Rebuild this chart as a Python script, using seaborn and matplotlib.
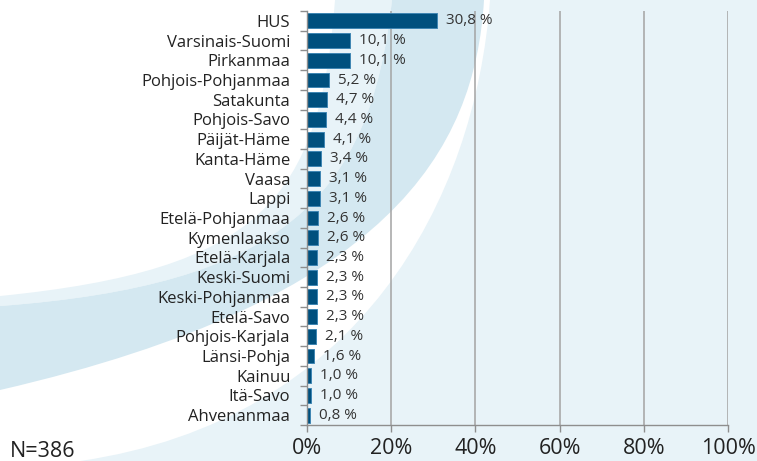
import numpy as np
import pandas as pd
import matplotlib
matplotlib.use('Agg')
import matplotlib.pyplot as plt
import seaborn as sns
from matplotlib.path import Path
from matplotlib.patches import PathPatch
from matplotlib.ticker import FixedLocator

regions = ['HUS', 'Varsinais-Suomi', 'Pirkanmaa', 'Pohjois-Pohjanmaa', 'Satakunta',
           'Pohjois-Savo', 'Päijät-Häme', 'Kanta-Häme', 'Vaasa', 'Lappi',
           'Etelä-Pohjanmaa', 'Kymenlaakso', 'Etelä-Karjala', 'Keski-Suomi',
           'Keski-Pohjanmaa', 'Etelä-Savo', 'Pohjois-Karjala', 'Länsi-Pohja',
           'Kainuu', 'Itä-Savo', 'Ahvenanmaa']
shares = [30.8, 10.1, 10.1, 5.2, 4.7, 4.4, 4.1, 3.4, 3.1, 3.1,
          2.6, 2.6, 2.3, 2.3, 2.3, 2.3, 2.1, 1.6, 1.0, 1.0, 0.8]
x_ticks = [0, 20, 40, 60, 80, 100]
n_label = 'N=386'

df = pd.DataFrame({'region': regions, 'share': shares})

sns.set_theme(style='white')
plt.rcParams['font.family'] = ['Open Sans', 'DejaVu Sans']

W, H = 757, 461
fig = plt.figure(figsize=(W / 100, H / 100), dpi=100)
fig.patch.set_facecolor('white')

# decorative background swooshes (pixel coords, y down)
bg = fig.add_axes([0, 0, 1, 1], zorder=0)
bg.set_xlim(0, W)
bg.set_ylim(H, 0)
bg.axis('off')
light = '#e8f3f8'
dark = '#d4e8f1'
C4, L2, MV, CP = Path.CURVE4, Path.LINETO, Path.MOVETO, Path.CLOSEPOLY

# right light area
verts = [(490, 0), (W, 0), (W, H), (80, H), (360, 420), (475, 200), (490, 0), (490, 0)]
codes = [MV, L2, L2, L2, C4, C4, C4, CP]
bg.add_patch(PathPatch(Path(verts, codes), fc=light, ec='none'))
# thin light band
verts = [(0, 296), (260, 270), (320, 200), (335, 0), (392, 0),
         (370, 200), (280, 285), (0, 306), (0, 296)]
codes = [MV, C4, C4, C4, L2, C4, C4, C4, CP]
bg.add_patch(PathPatch(Path(verts, codes), fc=light, ec='none'))
# darker band
verts = [(0, 306), (280, 285), (370, 200), (392, 0), (484, 0),
         (475, 150), (390, 300), (0, 390), (0, 306)]
codes = [MV, C4, C4, C4, L2, C4, C4, C4, CP]
bg.add_patch(PathPatch(Path(verts, codes), fc=dark, ec='none'))

ax = fig.add_axes([307 / W, 1 - 425 / H, 421 / W, 414 / H], zorder=1)
ax.set_facecolor('none')

sns.barplot(data=df, x='share', y='region', orient='h', color='#00507e',
            width=0.76, edgecolor='#3f86b3', linewidth=0.7, saturation=1, ax=ax)

for i, v in enumerate(shares):
    ax.annotate(f'{v:.1f} %'.replace('.', ','), xy=(v, i), xytext=(6.5, 0),
                textcoords='offset points', va='center', ha='left',
                fontsize=11, color='#333333')

ax.set_xlim(0, 100)
ax.set_ylim(len(regions) - 0.5, -0.5)
ax.set_xticks(x_ticks)
ax.set_xticklabels([f'{t}%' for t in x_ticks])
ax.set_xlabel('')
ax.set_ylabel('')

for t in x_ticks[1:]:
    ax.axvline(t, color='#a3a3a3', lw=1.1, zorder=0)

for s in ['top', 'right']:
    ax.spines[s].set_visible(False)
for s in ['left', 'bottom']:
    ax.spines[s].set_color('#8e8e8e')
    ax.spines[s].set_linewidth(1.0)

ax.yaxis.set_minor_locator(FixedLocator(np.arange(-0.5, len(regions), 1.0)))
ax.tick_params(axis='y', which='major', length=0, pad=12, labelsize=12, labelcolor='#222222')
ax.tick_params(axis='y', which='minor', left=True, length=5, width=1.0, color='#8e8e8e')
ax.tick_params(axis='x', which='major', bottom=True, length=5, width=1.0, color='#8e8e8e',
               pad=4, labelsize=15.5, labelcolor='#222222')

fig.text(10 / W, 1 - 451 / H, n_label, fontsize=15.5, color='#222222', va='center', ha='left')

fig.savefig('out.png', dpi=100)
